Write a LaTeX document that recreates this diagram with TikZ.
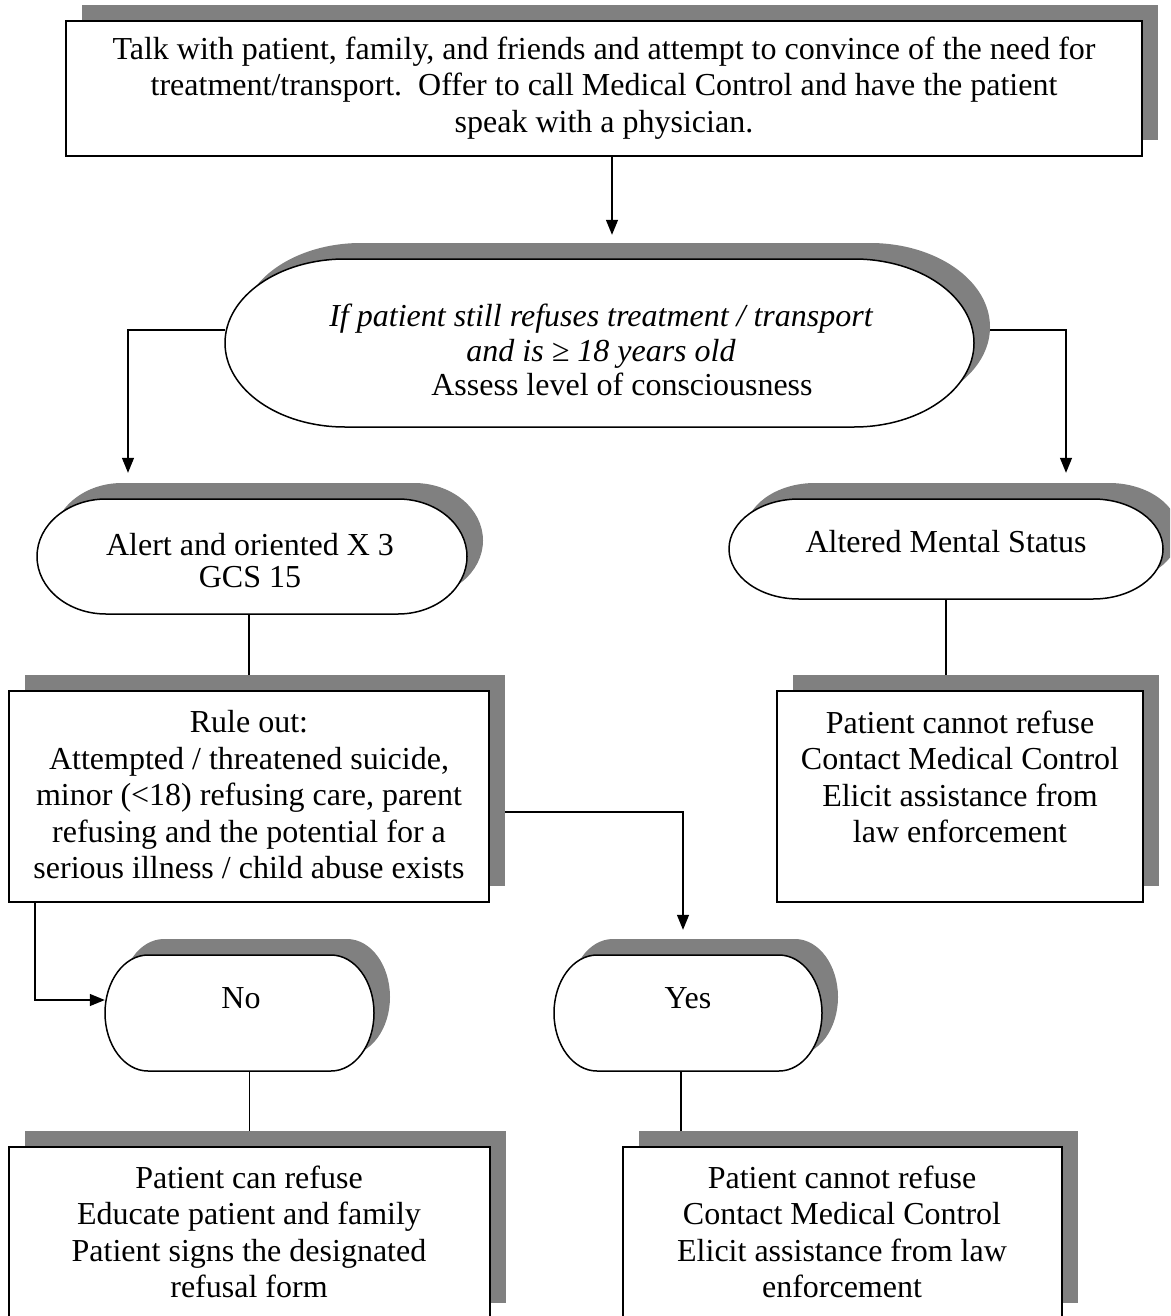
\documentclass[tikz,border=0pt]{standalone}
\usepackage{fontspec}
\setmainfont{Liberation Serif}
\usetikzlibrary{calc,arrows.meta,backgrounds}
\newcommand\rbox[5]{%
  \fill[shadowc] ({#2-#4/2+16},{#3-#5/2-16}) rectangle ({#2+#4/2+16},{#3+#5/2-16});
  \node[boxst,minimum width=#4pt,minimum height=#5pt] (#1) at (#2,#3) {};
}
\newcommand\tbox[6]{%
  \fill[shadowc] ({#2-#4/2+#6+16},{#3-#5/2-16}) -- ({#2+#4/2-#6+16},{#3-#5/2-16})
    arc[start angle=90,end angle=-90,x radius=#6pt,y radius={#5/2*1pt}]
    -- ({#2-#4/2+#6+16},{#3+#5/2-16})
    arc[start angle=270,end angle=90,x radius=#6pt,y radius={#5/2*1pt}] -- cycle;
  \filldraw[termst] ({#2-#4/2+#6},{#3-#5/2}) -- ({#2+#4/2-#6},{#3-#5/2})
    arc[start angle=90,end angle=-90,x radius=#6pt,y radius={#5/2*1pt}]
    -- ({#2-#4/2+#6},{#3+#5/2})
    arc[start angle=270,end angle=90,x radius=#6pt,y radius={#5/2*1pt}] -- cycle;
  \node[inner sep=0pt,minimum width=#4pt,minimum height=#5pt] (#1) at (#2,#3) {};
}
\begin{document}
\begin{tikzpicture}[x=1pt,y=-1pt,
  shadowc/.style={fill={rgb,255:red,128;green,128;blue,128}},
  boxst/.style={draw=black,line width=1.5pt,fill=white,inner sep=0pt},
  termst/.style={draw=black,line width=1.5pt,fill=white},
  txt/.style={align=center,inner sep=0pt,font=\fontsize{32}{36.5}\selectfont},
  conn/.style={draw=black,line width=1.3pt},
  arr/.style={conn,-{Triangle[length=15pt,width=12pt]}}]
\useasboundingbox (0,0) rectangle (1170,1316);
\clip (0,0) rectangle (1170,1316);

% boxes
\rbox{A}{604}{88.5}{1076}{135}
\node[txt] (At) at (604,88) {Talk with patient, family, and friends and attempt to convince of the need for\\
treatment/transport.\ \ Offer to call Medical Control and have the patient\\
speak with a physician.};

\tbox{B}{599.5}{343}{749}{168}{120}
\node[txt,font=\fontsize{32}{34.5}\selectfont] (Bt) at (601,350) {\itshape If patient still refuses treatment / transport\\
\itshape and is ≥ 18 years old\\
\hspace*{42pt}Assess level of consciousness};

\tbox{C}{252}{556.5}{430}{115}{69}
\node[txt,font=\fontsize{32}{32}\selectfont] (Ct) at (250,561) {Alert and oriented X 3\\GCS 15};

\tbox{D}{946}{549}{434}{100}{70}
\node[txt] (Dt) at (946,542) {Altered Mental Status};

\rbox{E}{249}{796.5}{480}{211}
\node[txt] (Et) at (249,795) {Rule out:\\
Attempted / threatened suicide,\\
minor (<18) refusing care, parent\\
refusing and the potential for a\\
serious illness / child abuse exists};

\rbox{F}{960}{796.5}{366}{211}
\node[txt] (Ft) at (960,777) {Patient cannot refuse\\
Contact Medical Control\\
Elicit assistance from\\
law enforcement};

\tbox{No}{239.5}{1013}{269}{116}{43}
\node[txt] (Not) at (241,998) {No};

\tbox{Yes}{688}{1013}{268}{116}{43}
\node[txt] (Yest) at (688,998) {Yes};

\rbox{G}{249.5}{1233}{481}{172}
\node[txt] (Gt) at (249,1232) {Patient can refuse\\
Educate patient and family\\
Patient signs the designated\\
refusal form};

\rbox{H}{842.5}{1233}{439}{172}
\node[txt] (Ht) at (842,1232) {Patient cannot refuse\\
Contact Medical Control\\
Elicit assistance from law\\
enforcement};

% connectors
\begin{scope}[on background layer]
\draw[arr] ([xshift=8pt]A.south) -- ([xshift=12.5pt,yshift=24pt]B.north);
\draw[arr] ([yshift=13pt]B.west) -| ([xshift=-124pt,yshift=26pt]C.north);
\draw[arr] ([yshift=13pt]B.east) -| ([xshift=120pt,yshift=26pt]D.north);
\draw[conn] ([xshift=-3pt]C.south) -- ([xshift=-3pt]C.south |- E.north);
\draw[conn] (D.south) -- (D.south |- F.north);
\draw[arr] ([yshift=-15.5pt]E.east) -| ([xshift=-5pt,yshift=25pt]Yes.north);
\draw[arr] ([xshift=-214pt]E.south) |- ([yshift=13pt]No.west);
\draw[conn] ([xshift=10pt]No.south) -- ([xshift=10pt]No.south |- G.north);
\draw[conn] ([xshift=-7pt]Yes.south) -- ([xshift=-7pt]Yes.south |- H.north);
\end{scope}
\end{tikzpicture}
\end{document}
